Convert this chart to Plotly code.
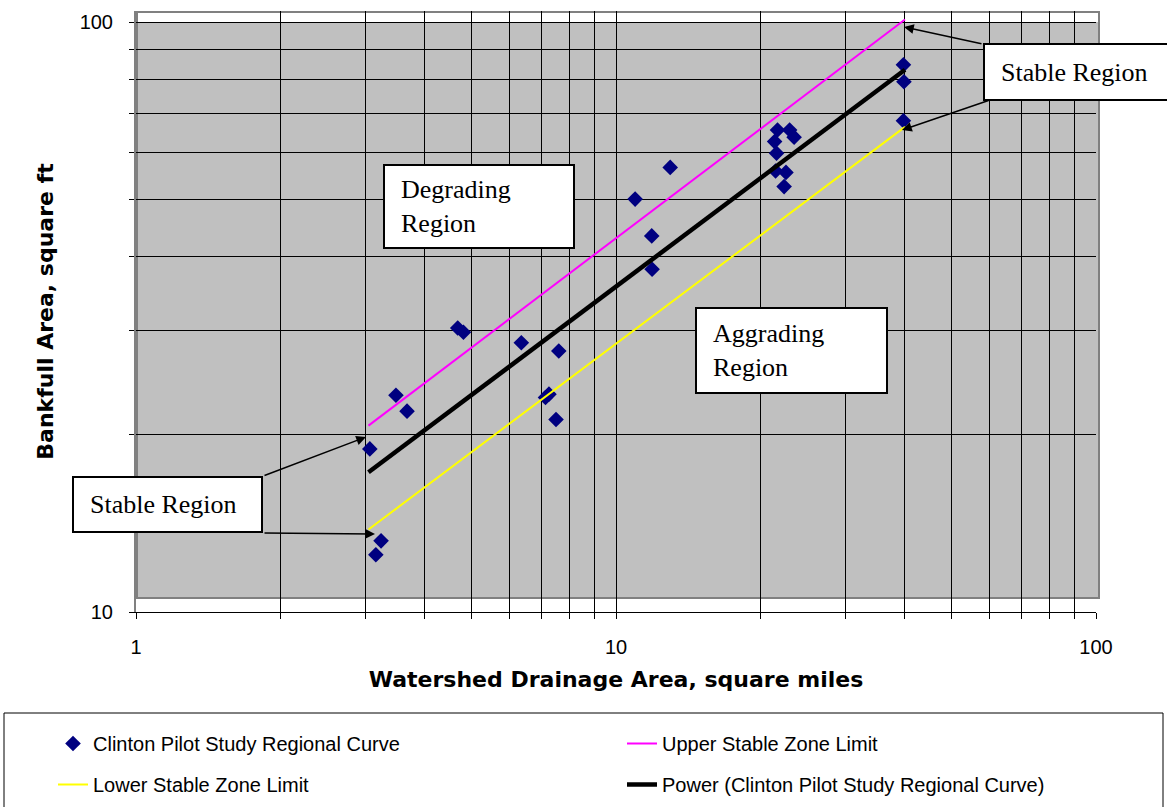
import plotly.graph_objects as go

# ---------------- data ----------------
drainage_area = [3.48, 3.67, 3.07, 3.24, 3.16,
                 4.68, 4.81, 6.35, 7.60, 7.13, 7.25, 7.50,
                 12.97, 10.96, 11.87, 11.89,
                 21.7, 23.0, 23.5, 21.4, 21.6, 21.5, 22.6, 22.4,
                 39.7, 39.8, 39.7]
bankfull_area = [23.3, 21.9, 18.9, 13.2, 12.5,
                 30.3, 29.8, 28.6, 27.7, 23.1, 23.4, 21.2,
                 56.7, 50.1, 43.4, 38.1,
                 65.6, 65.6, 63.8, 62.7, 59.9, 55.9, 55.6, 52.6,
                 84.6, 79.2, 68.0]

line_x = [3.05, 40.0]
upper_limit = [20.7, 101.0]
power_fit = [17.25, 83.0]
lower_limit = [13.8, 66.4]

x_tickvals = [1, 2, 3, 4, 5, 6, 7, 8, 9, 10, 20, 30, 40, 50, 60, 70, 80, 90, 100]
x_ticktext = ["1"] + [""] * 8 + ["10"] + [""] * 8 + ["100"]
y_tickvals = [10, 20, 30, 40, 50, 60, 70, 80, 90, 100]
y_ticktext = ["10"] + [""] * 8 + ["100"]

# ---------------- layout geometry ----------------
W, H = 1167, 807
L, R, T, B = 136, 71, 11, 195
PW, PH = W - L - R, H - T - B
BOTTOM = H - B  # pixel row of the x axis


def px(x):
    return (x - L) / PW


def py(y):
    return (BOTTOM - y) / PH


# y=100 sits at pixel row 22; the range is extended a little above it
y_top = 1 + (BOTTOM - T) / (BOTTOM - 22)

SANS = "Liberation Sans, Arial, sans-serif"
TITLE = "DejaVu Sans, Arial, sans-serif"
SERIF = "Liberation Serif, Times New Roman, serif"

fig = go.Figure()
fig.add_trace(go.Scatter(
    x=drainage_area, y=bankfull_area, mode="markers",
    name="Clinton Pilot Study Regional Curve",
    marker=dict(symbol="diamond", size=12, color="#000080", line=dict(width=0)),
    legend="legend", legendgroup="a"))
fig.add_trace(go.Scatter(
    x=line_x, y=lower_limit, mode="lines", name="Lower Stable Zone Limit",
    line=dict(color="#FFFF00", width=2), legend="legend", legendgroup="b"))
fig.add_trace(go.Scatter(
    x=line_x, y=upper_limit, mode="lines", name="Upper Stable Zone Limit",
    line=dict(color="#FF00FF", width=2), legend="legend2", legendgroup="c"))
fig.add_trace(go.Scatter(
    x=line_x, y=power_fit, mode="lines",
    name="Power (Clinton Pilot Study Regional Curve)",
    line=dict(color="#000000", width=4.5), legend="legend2", legendgroup="d"))

shapes = [
    # gray plot-area fill
    dict(type="rect", xref="paper", yref="paper", x0=0, x1=px(1099),
         y0=py(598), y1=py(22), fillcolor="#C0C0C0", line=dict(width=0),
         layer="below"),
    # white strip above the top grid line
    dict(type="rect", xref="paper", yref="paper", x0=0, x1=px(1100),
         y0=py(22), y1=1.0, fillcolor="white", line=dict(width=0),
         layer="between"),
    # gray plot-area border
    dict(type="rect", xref="paper", yref="paper", x0=px(137), x1=px(1099),
         y0=py(598), y1=py(12), fillcolor="rgba(0,0,0,0)",
         line=dict(color="#808080", width=2), layer="between"),
    # legend frame
    dict(type="rect", xref="paper", yref="paper", x0=px(4), x1=px(1163),
         y0=py(815), y1=py(713), fillcolor="rgba(0,0,0,0)",
         line=dict(color="#000000", width=1), layer="above"),
]

annotations = []


def box(text, left, top, right, bottom):
    bw, pad = 2, 3
    annotations.append(dict(
        xref="paper", yref="paper",
        x=px((left + right) / 2), y=py((top + bottom) / 2),
        xanchor="center", yanchor="middle",
        width=(right - left) - 2 * (bw + pad),
        height=(bottom - top) - 2 * (bw + pad),
        text=text, showarrow=False, align="left", valign="middle",
        bgcolor="white", bordercolor="black", borderwidth=bw, borderpad=pad,
        font=dict(family=SERIF, size=26, color="black")))


def arrow(tip_x, tip_y, tail_x, tail_y):
    annotations.append(dict(
        xref="paper", yref="paper", x=px(tip_x), y=py(tip_y),
        ax=tail_x - tip_x, ay=tail_y - tip_y, axref="pixel", ayref="pixel",
        text="", showarrow=True, arrowhead=2, arrowsize=1.3, arrowwidth=1.5,
        arrowcolor="black", standoff=0, startstandoff=0))


NB = "&nbsp;&nbsp;"
box(NB + "Degrading<br>" + NB + "Region", 383, 164, 575, 249)
box(NB + "Aggrading<br>" + NB + "Region", 695, 307, 888, 394)
box(NB + "Stable Region", 983, 43, 1175, 101)
box(NB + "Stable Region", 72, 476, 263, 533)
arrow(904, 27, 983, 44)
arrow(902, 130, 990, 100)
arrow(366, 437, 263, 476)
arrow(375, 534, 263, 533)

fig.update_layout(
    width=W, height=H,
    margin=dict(l=L, r=R, t=T, b=B, autoexpand=False),
    paper_bgcolor="white", plot_bgcolor="white",
    font=dict(family=SANS, size=20, color="black"),
    shapes=shapes, annotations=annotations,
    legend=dict(orientation="v", x=px(53), xanchor="left", y=py(724),
                yanchor="top", traceorder="grouped", tracegroupgap=12,
                bgcolor="rgba(0,0,0,0)", borderwidth=0,
                font=dict(family=SANS, size=20, color="black")),
    legend2=dict(orientation="v", x=px(622), xanchor="left", y=py(724),
                 yanchor="top", traceorder="grouped", tracegroupgap=12,
                 bgcolor="rgba(0,0,0,0)", borderwidth=0,
                 font=dict(family=SANS, size=20, color="black")),
)

fig.update_xaxes(
    type="log", range=[0, 2], tickvals=x_tickvals, ticktext=x_ticktext,
    showgrid=True, gridcolor="black", gridwidth=1,
    showline=True, linecolor="black", linewidth=1,
    ticks="outside", ticklen=6, tickcolor="black", ticklabelstandoff=11,
    tickfont=dict(family=SANS, size=20, color="black"),
    title=dict(text="Watershed Drainage Area, square miles", standoff=14,
               font=dict(family=TITLE, size=22, color="black", weight="bold")),
    zeroline=False, automargin=False)

fig.update_yaxes(
    type="log", range=[1, y_top], tickvals=y_tickvals, ticktext=y_ticktext,
    showgrid=True, gridcolor="black", gridwidth=1,
    showline=True, linecolor="#808080", linewidth=2,
    ticks="outside", ticklen=5, tickcolor="black", ticklabelstandoff=12,
    tickfont=dict(family=SANS, size=20, color="black"),
    title=dict(text="Bankfull Area, square ft", standoff=20,
               font=dict(family=TITLE, size=22, color="black", weight="bold")),
    zeroline=False, automargin=False)

fig.write_html("out.html")
